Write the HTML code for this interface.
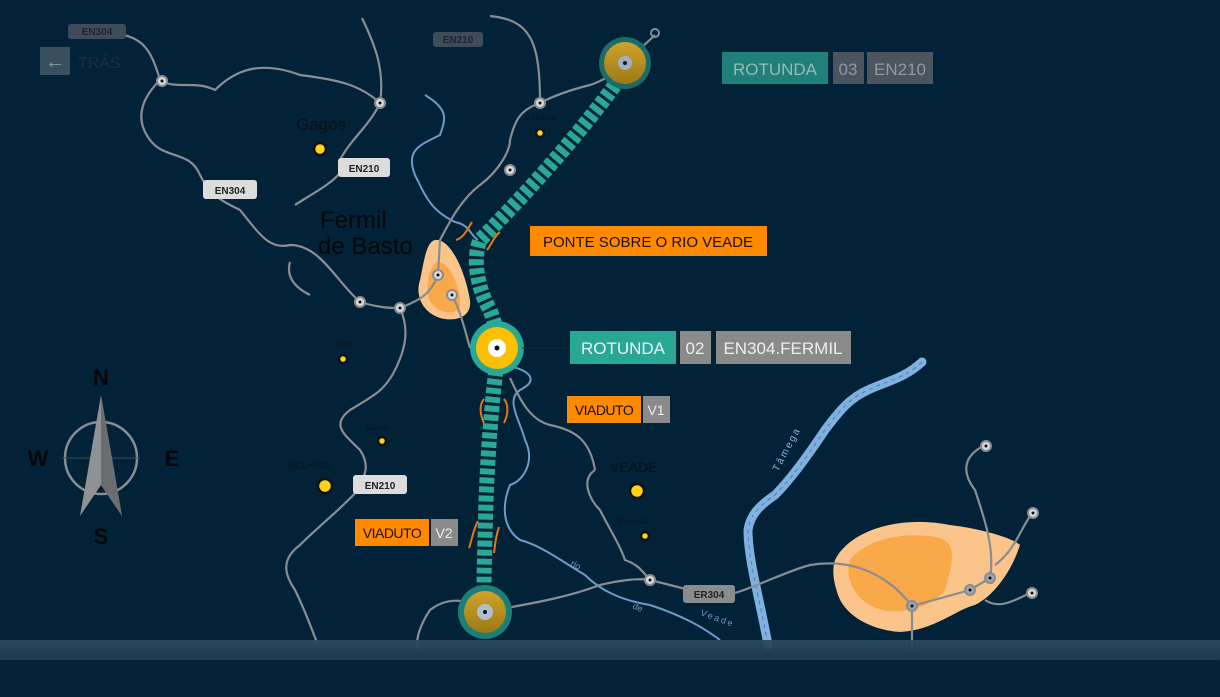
<!DOCTYPE html>
<html><head><meta charset="utf-8"><style>
html,body{margin:0;padding:0;background:#022238;}
svg{display:block}
text{font-family:"Liberation Sans",sans-serif}
</style></head><body>
<svg width="1220" height="697" viewBox="0 0 1220 697" xmlns="http://www.w3.org/2000/svg">
<defs>
<linearGradient id="band" x1="0" y1="0" x2="0" y2="1">
<stop offset="0" stop-color="#2c4b5f"/><stop offset="0.5" stop-color="#163449"/><stop offset="1" stop-color="#022238"/>
</linearGradient>
<linearGradient id="gold" x1="0" y1="0" x2="0" y2="1">
<stop offset="0" stop-color="#d0a42a"/><stop offset="1" stop-color="#9c7a16"/>
</linearGradient>
</defs>
<rect width="1220" height="697" fill="#022238"/>

<!-- towns -->
<path d="M435,240 C450,238 465,270 470,300 C472,318 455,322 440,318 C422,312 415,295 420,280 C424,262 426,242 435,240Z" fill="#fbc48a"/>
<path d="M438,262 C450,262 462,290 460,308 C450,318 432,310 428,296 C426,282 430,265 438,262Z" fill="#f9a84a"/>
<path d="M835,560 C850,530 900,515 950,525 C990,530 1015,540 1020,545 C1012,570 995,595 975,605 C955,610 935,630 900,632 C870,630 845,615 838,595 C833,580 832,570 835,560Z" fill="#fbc48a"/>
<path d="M850,560 C865,540 905,530 940,538 C960,545 950,570 945,590 C930,610 890,618 870,605 C852,595 845,575 850,560Z" fill="#f9a84a"/>

<!-- rivers -->
<g fill="none" stroke="#6e9ac6" stroke-width="2">
<path d="M425,95 C450,110 445,120 440,135 C420,145 405,150 415,175 C425,195 430,210 455,222 C470,225 470,235 478,240"/>
<path d="M505,365 C530,370 540,380 520,390 C505,400 520,420 525,440 C535,460 525,480 510,485 C500,510 505,530 520,540 C540,545 560,560 585,575 C600,590 620,600 650,605 C680,615 700,625 720,640"/>
</g>
<path d="M922,362 C905,378 885,382 868,390 C850,398 840,410 825,430 C805,460 790,480 775,495 C760,505 750,515 748,530 C748,560 760,600 768,645" fill="none" stroke="#7fb0e0" stroke-width="9" stroke-linecap="round"/>
<path d="M922,362 C905,378 885,382 868,390 C850,398 840,410 825,430 C805,460 790,480 775,495 C760,505 750,515 748,530 C748,560 760,600 768,645" fill="none" stroke="#4b7fb6" stroke-width="1" stroke-dasharray="4,4"/>
<text x="0" y="0" font-size="10" fill="#90b4d8" transform="translate(755,520) rotate(-70)">rio</text>
<text x="0" y="0" font-size="10" fill="#90b4d8" letter-spacing="2" transform="translate(778,472) rotate(-62)">Tâmega</text>
<text x="0" y="0" font-size="9" fill="#6e9ac6" transform="translate(570,565) rotate(30)">rio</text>
<text x="0" y="0" font-size="9" fill="#6e9ac6" transform="translate(632,608) rotate(25)">de</text>
<text x="0" y="0" font-size="9" fill="#6e9ac6" letter-spacing="2" transform="translate(700,615) rotate(20)">Veade</text>

<!-- roads -->
<g fill="none" stroke="#8a8d90" stroke-width="2.2">
<path d="M108,33 C140,35 150,45 160,80 C175,90 195,80 215,90 C235,70 260,60 300,75 C340,80 360,85 380,103"/>
<path d="M160,80 C140,100 135,120 150,140 C165,160 190,150 200,175 C210,195 220,200 240,210 C260,235 270,250 290,245 C320,245 335,280 360,302 C380,308 390,308 400,308 C420,300 430,295 438,275"/>
<path d="M362,18 C375,45 385,70 380,103 C370,125 350,140 340,160"/>
<path d="M340,173 C330,185 310,195 295,205"/>
<path d="M290,262 C285,280 300,290 310,295"/>
<path d="M400,308 C410,330 405,350 395,370 C385,390 375,395 350,410 C330,425 345,435 360,450 C370,465 365,475 360,485"/>
<path d="M360,488 C340,510 320,525 300,545 C280,560 285,575 295,590 C305,610 310,625 318,645"/>
<path d="M438,275 L440,240 C448,225 460,200 480,185 C500,170 510,150 510,140 C515,120 520,110 540,103"/>
<path d="M490,16 C530,20 540,40 540,103 C555,95 570,90 590,85 C605,80 610,75 625,63"/>
<path d="M452,295 C460,310 465,330 470,348"/>
<path d="M625,63 L655,35"/>
<path d="M510,378 C520,400 530,420 550,425 C575,430 590,440 595,470"/>
<path d="M595,470 C580,480 590,500 600,510 C610,530 620,545 625,560 C640,565 645,575 650,580"/>
<path d="M485,612 C520,605 560,600 600,585 C620,580 640,578 650,580 C670,585 690,590 700,593"/>
<path d="M735,593 C760,585 790,570 810,565 C840,560 880,565 912,606 L970,590 L990,578"/>
<path d="M912,606 L912,650"/>
<path d="M990,578 C995,550 985,520 975,490 C960,470 965,455 985,445"/>
<path d="M995,565 C1015,550 1020,530 1032,513"/>
<path d="M985,600 C1000,610 1015,600 1030,593"/>
<path d="M485,612 C470,600 450,595 430,610 C420,625 415,640 418,650"/>
</g>

<!-- road nodes -->
<g fill="#d8d8d8" stroke="#8a8d90" stroke-width="2">
<circle cx="162" cy="81" r="5"/><circle cx="380" cy="103" r="5"/><circle cx="540" cy="103" r="5"/>
<circle cx="510" cy="170" r="5"/><circle cx="360" cy="302" r="5"/><circle cx="400" cy="308" r="5"/>
<circle cx="438" cy="275" r="5"/><circle cx="452" cy="295" r="5"/><circle cx="650" cy="580" r="5"/>
<circle cx="986" cy="446" r="5"/><circle cx="1033" cy="513" r="5"/><circle cx="1032" cy="593" r="5"/>
<circle cx="912" cy="606" r="5" fill="#9aa6b2"/><circle cx="970" cy="590" r="5" fill="#9aa6b2"/><circle cx="990" cy="578" r="5" fill="#9aa6b2"/>
<circle cx="655" cy="33" r="4" fill="none"/>
</g>
<g fill="#111"><circle cx="162" cy="81" r="1.5"/><circle cx="380" cy="103" r="1.5"/><circle cx="540" cy="103" r="1.5"/><circle cx="510" cy="170" r="1.5"/><circle cx="360" cy="302" r="1.5"/><circle cx="400" cy="308" r="1.5"/><circle cx="438" cy="275" r="1.5"/><circle cx="452" cy="295" r="1.5"/><circle cx="650" cy="580" r="1.5"/><circle cx="986" cy="446" r="1.5"/><circle cx="1033" cy="513" r="1.5"/><circle cx="1032" cy="593" r="1.5"/><circle cx="912" cy="606" r="1.5"/><circle cx="970" cy="590" r="1.5"/><circle cx="990" cy="578" r="1.5"/></g>

<!-- road labels -->
<g font-size="10" font-weight="bold" text-anchor="middle">
<rect x="68" y="24" width="58" height="15" rx="3" fill="#3d4d58"/><text x="97" y="35" fill="#223">EN304</text>
<rect x="433" y="32" width="50" height="15" rx="3" fill="#3d4d58"/><text x="458" y="43" fill="#223">EN210</text>
<rect x="338" y="158" width="52" height="19" rx="3" fill="#dcdcdc"/><text x="364" y="172" fill="#222">EN210</text>
<rect x="203" y="180" width="54" height="19" rx="3" fill="#dcdcdc"/><text x="230" y="194" fill="#222">EN304</text>
<rect x="353" y="475" width="54" height="19" rx="3" fill="#dcdcdc"/><text x="380" y="489" fill="#222">EN210</text>
<rect x="683" y="585" width="52" height="18" rx="3" fill="#8a8d90"/><text x="709" y="598" fill="#222">ER304</text>
</g>

<!-- back button -->
<rect x="40" y="47" width="30" height="28" fill="#3a4f5e"/>
<text x="55" y="68" font-size="20" fill="#8a9aa6" text-anchor="middle">←</text>
<text x="78" y="68" font-size="16" fill="#1a3040">TRÁS</text>

<!-- places -->
<g fill="#ffd21a" stroke="#111" stroke-width="2.5">
<circle cx="320" cy="149" r="6"/><circle cx="540" cy="133" r="4"/><circle cx="343" cy="359" r="4"/><circle cx="382" cy="441" r="4"/>
<circle cx="325" cy="486" r="7"/><circle cx="637" cy="491" r="7"/><circle cx="645" cy="536" r="4"/>
</g>
<text x="296" y="130" font-size="17" fill="#0c0f12">Gagos</text>
<text x="320" y="228" font-size="24" fill="#050608">Fermil</text>
<text x="318" y="254" font-size="24" fill="#050608">de Basto</text>
<text x="610" y="472" font-size="14" fill="#0c0f12">VEADE</text>
<text x="288" y="469" font-size="9" fill="#0c1418">MOLARES</text>
<text x="525" y="120" font-size="8" fill="#0c1418">S.Roman</text>
<text x="336" y="347" font-size="8" fill="#0c1418">Tuar</text>
<text x="366" y="430" font-size="8" fill="#0c1418">Gorum</text>
<text x="618" y="524" font-size="8" fill="#0c1418">Boavista</text>

<!-- teal track -->
<path d="M620,78 C590,120 540,180 480,240 C472,260 478,290 490,310 C498,330 497,340 496,348 M496,370 C492,400 488,450 486,500 C485,540 484,570 484,590" fill="none" stroke="#29a896" stroke-width="15" stroke-dasharray="6,3"/>

<!-- bridge brackets -->
<g fill="none" stroke="#e07818" stroke-width="2">
<path d="M472,222 C466,232 463,238 456,240"/><path d="M500,232 C494,236 492,244 487,250"/>
<path d="M484,399 C479,405 480,415 484,423"/><path d="M504,399 C509,405 508,415 504,423"/>
<path d="M478,521 C473,530 472,540 469,548"/><path d="M499,527 C496,535 495,545 494,553"/>
</g>

<!-- rotundas -->
<circle cx="625" cy="63" r="26" fill="#1b6b6a"/><circle cx="625" cy="63" r="21" fill="url(#gold)"/><circle cx="625" cy="63" r="7" fill="#9fb0c0"/><circle cx="625" cy="63" r="2" fill="#111"/>
<circle cx="497" cy="348" r="27" fill="#29a896"/><circle cx="497" cy="348" r="21" fill="#fcc000"/><circle cx="497" cy="348" r="9" fill="#fff"/><circle cx="497" cy="348" r="2.5" fill="#111"/>
<circle cx="485" cy="612" r="27" fill="#1b7f78"/><circle cx="485" cy="612" r="21" fill="url(#gold)"/><circle cx="485" cy="612" r="8" fill="#b0bfd0"/><circle cx="485" cy="612" r="2" fill="#111"/>

<!-- callouts -->
<rect x="722" y="52" width="106" height="32" fill="#1f7f79"/><text x="775" y="75" font-size="17" fill="#9bb8b8" text-anchor="middle">ROTUNDA</text>
<rect x="833" y="52" width="31" height="32" fill="#4b5560"/><text x="848" y="75" font-size="17" fill="#8f9aa2" text-anchor="middle">03</text>
<rect x="867" y="52" width="66" height="32" fill="#4b5560"/><text x="900" y="75" font-size="17" fill="#8f9aa2" text-anchor="middle">EN210</text>

<rect x="530" y="226" width="237" height="30" fill="#ff8a00"/><text x="648" y="247" font-size="15" fill="#1a1000" text-anchor="middle">PONTE SOBRE O RIO VEADE</text>

<line x1="522" y1="348" x2="570" y2="348" stroke="#0a2a3a" stroke-width="1"/>
<rect x="570" y="331" width="106" height="33" fill="#29a896"/><text x="623" y="354" font-size="17" fill="#eef" text-anchor="middle">ROTUNDA</text>
<rect x="680" y="331" width="31" height="33" fill="#8a8a8a"/><text x="695" y="354" font-size="17" fill="#eee" text-anchor="middle">02</text>
<rect x="716" y="331" width="135" height="33" fill="#8a8a8a"/><text x="783" y="354" font-size="17" fill="#eee" text-anchor="middle">EN304.FERMIL</text>

<rect x="567" y="396" width="74" height="27" fill="#ff8a00"/><text x="604" y="415" font-size="14" fill="#1a1000" text-anchor="middle" letter-spacing="-0.5">VIADUTO</text>
<rect x="643" y="396" width="27" height="27" fill="#8a8a8a"/><text x="656" y="415" font-size="14" fill="#eee" text-anchor="middle">V1</text>
<rect x="355" y="519" width="74" height="27" fill="#ff8a00"/><text x="392" y="538" font-size="14" fill="#1a1000" text-anchor="middle" letter-spacing="-0.5">VIADUTO</text>
<rect x="431" y="519" width="27" height="27" fill="#8a8a8a"/><text x="444" y="538" font-size="14" fill="#eee" text-anchor="middle">V2</text>

<!-- compass -->
<circle cx="101" cy="458" r="36" fill="none" stroke="#8a8d90" stroke-width="2.5"/>
<line x1="62" y1="458" x2="140" y2="458" stroke="#3a4d58" stroke-width="1"/>
<path d="M101,395 L80,516 L101,485 L122,516Z" fill="#8f9194"/>
<path d="M101,395 L101,485 L122,516Z" fill="#6a6d70"/>
<text x="101" y="385" font-size="22" font-weight="bold" fill="#050608" text-anchor="middle">N</text>
<text x="101" y="544" font-size="22" font-weight="bold" fill="#050608" text-anchor="middle">S</text>
<text x="38" y="466" font-size="22" font-weight="bold" fill="#050608" text-anchor="middle">W</text>
<text x="172" y="466" font-size="22" font-weight="bold" fill="#050608" text-anchor="middle">E</text>

<!-- bottom band -->
<rect x="0" y="640" width="1220" height="57" fill="url(#band)" opacity="0.95"/>
<rect x="0" y="660" width="1220" height="37" fill="#022238"/>
</svg>
</body></html>
